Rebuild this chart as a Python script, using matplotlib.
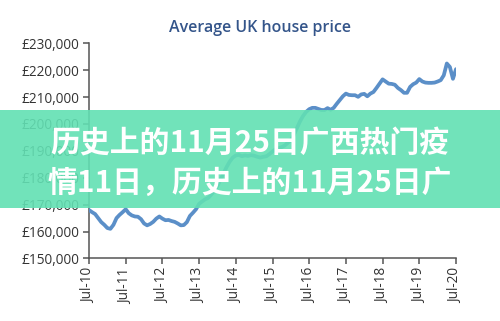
import matplotlib
matplotlib.use("Agg")
import matplotlib.pyplot as plt
from matplotlib.patches import Rectangle
from matplotlib.ticker import FuncFormatter

# Monthly average UK house price (GBP, thousands), Jul-10 .. Jul-20
prices_k = [
    168.0, 167.2, 166.5, 165.0, 163.5, 162.5, 161.3, 161.0, 162.5, 165.0,
    166.2, 167.2, 168.3, 166.8, 166.0, 165.6, 165.5, 164.6, 163.0, 162.3,
    162.8, 163.6, 164.8, 165.6, 164.8, 164.2, 164.3, 163.9, 163.6, 163.0,
    162.3, 162.4, 163.5, 165.8, 167.0, 168.3, 170.3, 171.2, 172.0, 172.5,
    173.8, 175.2, 177.0, 179.3, 181.7, 184.0, 186.0, 187.5, 188.3, 188.5,
    188.0, 188.3, 188.1, 188.4, 188.2, 187.8, 187.5, 187.8, 188.0, 188.8,
    189.8, 190.6, 191.0, 191.4, 192.0, 193.0, 194.0, 196.0, 198.5, 201.0,
    203.0, 204.5, 205.5, 206.0, 206.0, 205.6, 205.2, 205.2, 205.9, 205.3,
    206.0, 207.5, 208.9, 210.3, 211.3, 210.8, 210.7, 210.7, 210.1, 211.0,
    211.2, 210.3, 211.3, 211.9, 213.4, 215.0, 216.6, 215.8, 215.0, 214.9,
    214.6, 213.4, 212.6, 211.6, 211.6, 213.8, 214.8, 215.4, 216.7, 215.8,
    215.4, 215.3, 215.3, 215.4, 215.8, 216.3, 218.1, 222.5, 221.2, 216.8,
    220.4,
]
months = list(range(len(prices_k)))
tick_months = [0, 12, 24, 36, 48, 60, 72, 84, 96, 108, 120]
tick_labels = ["Jul-10", "Jul-11", "Jul-12", "Jul-13", "Jul-14", "Jul-15",
               "Jul-16", "Jul-17", "Jul-18", "Jul-19", "Jul-20"]
y_ticks = [150000, 160000, 170000, 180000, 190000, 200000, 210000, 220000, 230000]
title = "Average UK house price"
banner_lines = ["历史上的11月25日广西热门疫", "情11日，历史上的11月25日广"]

prices = [p * 1000 for p in prices_k]

fig = plt.figure(figsize=(5.0, 3.21), dpi=100)
fig.patch.set_facecolor("white")
ax = fig.add_axes([0.178, 0.195, 0.734, 0.670])
ax.plot(months, prices, color="#5b8fc8", lw=2.7, solid_capstyle="round", zorder=3)
ax.set_xlim(0, 120)
ax.set_ylim(150000, 230000)
ax.set_yticks(y_ticks)
ax.yaxis.set_major_formatter(FuncFormatter(lambda v, p: "£{:,.0f}".format(v)))
ax.set_xticks(tick_months)
ax.set_xticklabels(tick_labels, rotation=90)
for s in ["top", "right"]:
    ax.spines[s].set_visible(False)
for s in ["left", "bottom"]:
    ax.spines[s].set_color("#555555")
    ax.spines[s].set_linewidth(1.1)
ax.tick_params(axis="both", colors="#555555", length=4, width=1.1,
               labelcolor="#333333", labelsize=9.8, pad=3)
for lab in ax.get_xticklabels() + ax.get_yticklabels():
    lab.set_family(["Open Sans", "DejaVu Sans"])

fig.text(0.52, 0.913, title, ha="center", va="center", fontsize=11.5,
         fontweight="semibold", color="#34558a", family=["Open Sans", "DejaVu Sans"])

# Banner overlay
fig.patches.append(Rectangle((0, 1 - 208 / 321), 1, 98 / 321, transform=fig.transFigure,
                             facecolor="#62e0b3", alpha=0.9, edgecolor="none", zorder=5))
fig.text(0.5, 1 - 143 / 321, banner_lines[0], ha="center", va="center",
         fontsize=21.5, fontweight="bold", color="white",
         family=["Noto Sans CJK SC", "DejaVu Sans"], zorder=6)
fig.text(0.5, 1 - 183 / 321, banner_lines[1], ha="center", va="center",
         fontsize=21.5, fontweight="bold", color="white",
         family=["Noto Sans CJK SC", "DejaVu Sans"], zorder=6)

fig.savefig("out.png", dpi=100)
